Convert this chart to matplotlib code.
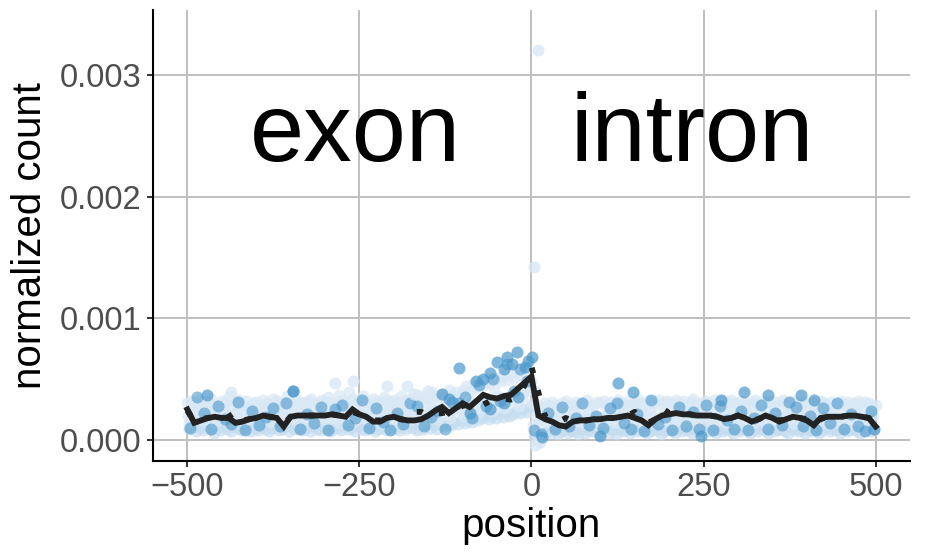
import numpy as np
import matplotlib
matplotlib.use("Agg")
import matplotlib.pyplot as plt

plt.rcParams['font.family'] = ['Liberation Sans', 'DejaVu Sans']

SCALE = 1e-5  # values below are in units of 1e-5

# binned mean lines (every 10 positions)
line_pos = np.arange(-500, 501, 10)
solid_vals = [25, 14, 16, 18, 19, 18, 18, 14, 15, 17,
              18, 20, 19, 18, 11, 19, 20, 20, 20, 20,
              20, 21, 20, 19, 25, 21, 19, 15, 15, 18,
              19, 17, 16, 16, 17, 20, 24, 27, 22, 26,
              30, 27, 32, 37, 35, 34, 36, 37, 42, 47,
              52, 20, 17, 15, 12, 11, 15, 16, 16, 17,
              17, 18, 18, 19, 20, 18, 16, 12, 17, 20,
              21, 22, 21, 21, 20, 20, 20, 19, 17, 18,
              20, 18, 15, 17, 20, 18, 15, 17, 19, 18,
              16, 12, 18, 19, 19, 19, 20, 20, 19, 18,
              11]
dotted_vals = [24, 15, 17, 18, 19, 18, 19, 23, 16, 17,
               18, 19, 19, 18, 13, 19, 20, 20, 20, 20,
               20, 21, 20, 19, 23, 21, 19, 16, 16, 18,
               19, 17, 16, 23, 23, 20, 22, 22, 23, 25,
               28, 29, 30, 29, 32, 33, 34, 33, 35, 45,
               60, 39, 19, 16, 15, 18, 15, 16, 16, 17,
               17, 18, 18, 19, 20, 23, 17, 14, 17, 26,
               22, 22, 21, 21, 20, 20, 20, 19, 18, 18,
               20, 18, 16, 17, 20, 18, 16, 17, 19, 18,
               17, 12, 17, 19, 19, 19, 20, 20, 19, 18,
               12]

# light points, upper part of the cloud
hi_pos = np.arange(-500, 501, 5)
hi_vals = [30, 32, 27, 29, 33, 28, 31, 34, 29, 27, 32, 30, 36, 28, 31, 33, 29, 32, 27, 30,
           31, 28, 33, 30, 29, 34, 32, 27, 31, 36, 30, 29, 33, 31, 28, 32, 34, 30, 29, 33,
           32, 35, 30, 29, 37, 33, 31, 39, 34, 30, 33, 36, 31, 29, 34, 32, 30, 35, 33, 31,
           33, 30, 36, 32, 34, 31, 33, 37, 32, 35, 34, 39, 36, 33, 38, 35, 41, 37, 39, 36,
           41, 44, 39, 46, 43, 48, 45, 50, 47, 43, 51, 48, 53, 49, 55, 51, 58, 53, 56, 60,
           48, 40, 29, 27, 30, 28, 31, 29, 27, 30, 32, 28, 29, 31, 27, 30, 33, 29, 28, 31,
           30, 32, 28, 31, 29, 33, 30, 28, 32, 29, 31, 34, 30, 28, 32, 31, 29, 33, 30, 32,
           31, 29, 33, 30, 32, 28, 31, 34, 30, 29, 32, 31, 28, 33, 30, 32, 29, 31, 33, 30,
           29, 32, 30, 28, 31, 33, 29, 31, 30, 32, 28, 31, 29, 33, 30, 28, 32, 30, 29, 31,
           30, 28, 31, 29, 32, 30, 28, 31, 29, 30, 32, 29, 31, 28, 30, 32, 29, 31, 30, 28,
           29]

# light points, middle of the cloud
mid_pos = np.arange(-499, 500, 5)
mid_vals = [20, 18, 22, 19, 21, 17, 23, 20, 18, 22, 19, 21, 20, 17, 22, 19, 23, 18, 20, 21,
            19, 22, 20, 18, 21, 23, 19, 20, 22, 18, 21, 19, 23, 20, 18, 22, 20, 21, 19, 22,
            21, 19, 23, 20, 22, 18, 21, 24, 20, 19, 22, 21, 18, 23, 20, 22, 19, 21, 23, 20,
            20, 22, 19, 23, 21, 20, 24, 22, 19, 23, 21, 25, 22, 24, 21, 26, 23, 25, 27, 24,
            27, 25, 29, 26, 30, 28, 31, 29, 33, 30, 32, 35, 31, 34, 33, 36, 38, 35, 40, 42,
            30, 20, 15, 18, 16, 19, 17, 20, 18, 16, 19, 17, 18, 20, 16, 19, 17, 18, 20, 17,
            18, 20, 17, 19, 21, 18, 16, 19, 20, 17, 19, 18, 21, 17, 19, 20, 18, 17, 19, 21,
            19, 17, 20, 18, 21, 19, 17, 20, 18, 19, 21, 17, 20, 18, 19, 17, 21, 19, 18, 20,
            18, 20, 17, 19, 18, 21, 17, 19, 20, 18, 17, 20, 19, 18, 21, 17, 19, 18, 20, 17,
            19, 18, 20, 17, 19, 21, 18, 17, 20, 19, 18, 17, 20, 19, 18, 21, 17, 19, 18, 20]

# light points, second middle band
mid2_pos = np.arange(-498, 500, 10)
mid2_vals = [14, 25, 16, 24, 15, 26, 13, 23, 16, 25, 14, 24, 15, 27, 16, 23, 14, 25, 15, 24,
             16, 25, 14, 26, 15, 24, 16, 27, 14, 25, 15, 26, 16, 24, 15, 27, 17, 26, 18, 28,
             20, 30, 22, 33, 24, 35, 26, 38, 28, 40, 12, 16, 24, 13, 22, 14, 23, 15, 24, 13,
             14, 24, 15, 23, 13, 25, 14, 24, 16, 23, 14, 25, 15, 24, 13, 23, 15, 25, 14, 24,
             15, 23, 14, 25, 13, 24, 15, 23, 14, 24, 16, 25, 14, 23, 15, 24, 13, 25, 14, 23]

# light points, lower part of the cloud
lo_pos = np.arange(-497, 500, 5)
lo_vals = [9, 12, 7, 10, 8, 11, 9, 6, 10, 8, 12, 9, 7, 11, 10, 8, 9, 12, 7, 10,
           8, 11, 9, 7, 10, 12, 8, 9, 11, 7, 10, 9, 12, 8, 10, 7, 11, 9, 8, 10,
           9, 7, 11, 10, 8, 12, 9, 10, 7, 11, 9, 8, 12, 10, 7, 9, 11, 8, 10, 9,
           10, 8, 11, 9, 12, 10, 8, 11, 9, 13, 10, 12, 9, 14, 11, 13, 12, 15, 13, 16,
           14, 17, 15, 19, 16, 18, 21, 17, 20, 18, 22, 19, 23, 20, 21, 24, 22, 25, 23, 27,
           2, 0, 4, 6, 7, 6, 8, 5, 7, 9, 6, 8, 7, 5, 9, 6, 8, 7, 9, 6,
           7, 9, 6, 8, 5, 9, 7, 8, 6, 10, 7, 9, 8, 6, 7, 9, 8, 5, 7, 9,
           8, 6, 9, 7, 10, 8, 6, 9, 7, 8, 10, 7, 9, 6, 8, 7, 9, 8, 6, 9,
           7, 9, 8, 6, 9, 7, 10, 8, 6, 9, 7, 8, 9, 7, 6, 9, 8, 7, 9, 6,
           8, 7, 9, 6, 8, 10, 7, 9, 8, 6, 9, 7, 8, 9, 7, 6, 8, 9, 7, 8]

# darker points
dark_pos = np.arange(-496, 500, 10)
dark_vals = [10, 35, 22, 9, 28, 17, 13, 31, 8, 24, 12, 19, 26, 11, 30, 40, 9, 21, 14, 27,
             8, 25, 29, 12, 18, 33, 10, 26, 15, 8, 22, 13, 30, 28, 11, 19, 24, 9, 31, 30,
             35, 18, 45, 28, 50, 32, 62, 40, 58, 48, 8, 5, 22, 9, 27, 11, 18, 30, 12, 20,
             10, 26, 30, 14, 9, 21, 7, 33, 13, 19, 8, 27, 11, 23, 9, 29, 8, 28, 16, 9,
             24, 8, 18, 29, 9, 22, 12, 31, 27, 11, 20, 8, 26, 14, 30, 9, 21, 11, 7, 24]

extra_pos = [-106, -35, -21, 1, -50, -10, -70, -130, -120, -80, -60, -40, -28, -5,
             10, 3, 125, -285, -259, -210, -181, -437, -346, -471, -150, -170,
             -40, -90, -60, -20, 5, 12, 15, 147, 275, 309, 343, 391, 411, 497, 100, 246]
extra_vals = [59, 68, 72, 68, 64, 60, 50, 38, 34, 48, 55, 58, 62, 65,
              320, 142, 47, 47, 48, 44, 44, 39, 40, 37, 40, 38,
              30, 22, 25, 35, -4, -2, 2, 39, 33, 39, 37, 37, 33, 9, 3, 3]
extra_dark = [1, 1, 1, 1, 1, 1, 1, 1, 1, 1, 1, 1, 1, 1,
              0, 0, 1, 0, 0, 0, 0, 0, 1, 1, 0, 0,
              1, 1, 1, 1, 0, 0, 1, 1, 1, 1, 1, 1, 1, 1, 1, 1]

x_ticks = [-500, -250, 0, 250, 500]
y_ticks = [0.000, 0.001, 0.002, 0.003]
y_tick_labels = ["0.000", "0.001", "0.002", "0.003"]

fig = plt.figure(figsize=(9.27, 5.54), dpi=100)
ax = fig.add_axes([0.165, 0.168, 0.8167, 0.814])

S = 75
light1 = '#d9e8f5'
light2 = '#c6ddf0'
dark = '#4a97cb'

ax.scatter(lo_pos, np.array(lo_vals) * SCALE, s=S, color=light2, alpha=0.7, lw=0, zorder=2)
ax.scatter(mid2_pos, np.array(mid2_vals) * SCALE, s=S, color=light1, alpha=0.7, lw=0, zorder=2)
ax.scatter(mid_pos, np.array(mid_vals) * SCALE, s=S, color=light1, alpha=0.7, lw=0, zorder=2)
ax.scatter(hi_pos, np.array(hi_vals) * SCALE, s=S, color=light1, alpha=0.7, lw=0, zorder=2)
ax.scatter(dark_pos, np.array(dark_vals) * SCALE, s=S, color=dark, alpha=0.6, lw=0, zorder=2)
ep = np.array(extra_pos)
ev = np.array(extra_vals) * SCALE
ed = np.array(extra_dark).astype(bool)
ax.scatter(ep[~ed], ev[~ed], s=S, color=light1, alpha=0.8, lw=0, zorder=2)
ax.scatter(ep[ed], ev[ed], s=S, color=dark, alpha=0.7, lw=0, zorder=2)

ax.plot(line_pos, np.array(dotted_vals) * SCALE, color='#222222', lw=4.2,
        linestyle=(0, (1, 3)), dash_capstyle='butt', zorder=3)
ax.plot(line_pos, np.array(solid_vals) * SCALE, color='#222222', lw=4.2,
        solid_joinstyle='miter', zorder=4)

ax.text(-256, 0.0025, "exon", fontsize=70, ha='center', va='center', color='black', zorder=5)
ax.text(233, 0.0025, "intron", fontsize=70, ha='center', va='center', color='black', zorder=5)

ax.set_xlim(-550, 550)
ax.set_ylim(-0.000173, 0.003533)
ax.set_xticks(x_ticks)
ax.set_yticks(y_ticks)
ax.set_yticklabels(y_tick_labels)
ax.grid(True, color='#bfbfbf', lw=1.4)
ax.set_axisbelow(True)
for side in ['top', 'right']:
    ax.spines[side].set_visible(False)
for side in ['left', 'bottom']:
    ax.spines[side].set_linewidth(1.5)
    ax.spines[side].set_color('black')
ax.tick_params(axis='both', length=4, width=1.4, color='#333333',
               labelsize=23.5, labelcolor='#4d4d4d', pad=4)
ax.set_xlabel('position', fontsize=29, labelpad=3)
ax.set_ylabel('normalized count', fontsize=29, labelpad=8)

fig.savefig('out.png', dpi=100)
